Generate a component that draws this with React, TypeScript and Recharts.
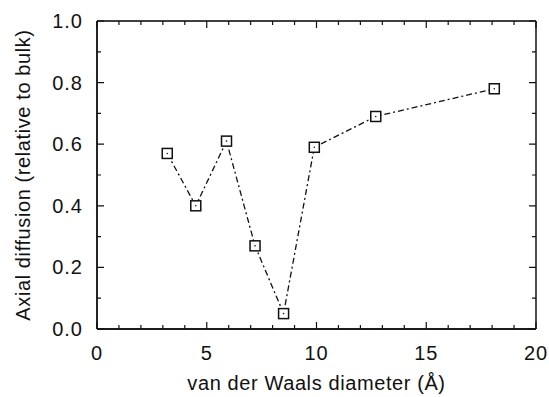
import { LineChart, Line, XAxis, YAxis, CartesianGrid } from 'recharts';

const diameters = [3.2, 4.5, 5.9, 7.2, 8.5, 9.9, 12.7, 18.1];
const diffusion = [0.57, 0.4, 0.61, 0.27, 0.05, 0.59, 0.69, 0.78];
const xTicks = [0, 1, 2, 3, 4, 5, 6, 7, 8, 9, 10, 11, 12, 13, 14, 15, 16, 17, 18, 19, 20];
const yTicks = [0, 0.1, 0.2, 0.3, 0.4, 0.5, 0.6, 0.7, 0.8, 0.9, 1.0];
const frameX = [0, 20];
const frameY = [0, 1];

const data = diameters.map((d, i) => ({ d, v: diffusion[i] }));

const FONT = '"Liberation Sans", Arial, Helvetica, sans-serif';
const INK = '#111';

const W = 549;
const H = 397;
const MARGIN = { top: 21, right: 13, bottom: 0, left: 0 };
const X_AXIS_H = 68;
const Y_AXIS_W = 97;
const PLOT_W = W - MARGIN.left - MARGIN.right - Y_AXIS_W;
const PLOT_H = H - MARGIN.top - MARGIN.bottom - X_AXIS_H;

const isMajorX = (v: number) => v % 5 === 0;
const isMajorY = (v: number) => Math.round(v * 10) % 2 === 0;

// bottom axis tick, also mirrors an inward tick onto the top edge
function BottomTick({ x, y, payload }: any) {
  const major = isMajorX(payload.value);
  const len = major ? 7 : 4;
  const top = y - PLOT_H;
  return (
    <g>
      <path d={`M${x},${y}V${y - len}M${x},${top}V${top + len}`} stroke={INK} strokeWidth={1.2} fill="none" />
      {major && (
        <text x={x} y={y + 31} textAnchor="middle" fontSize={20} letterSpacing={1} fontFamily={FONT} fill={INK}>
          {payload.value}
        </text>
      )}
    </g>
  );
}

// left axis tick, also mirrors an inward tick onto the right edge
function LeftTick({ x, y, payload }: any) {
  const major = isMajorY(payload.value);
  const len = major ? 7 : 4;
  const right = x + PLOT_W;
  return (
    <g>
      <path d={`M${x},${y}H${x + len}M${right},${y}H${right - len}`} stroke={INK} strokeWidth={1.2} fill="none" />
      {major && (
        <text x={x - 14} y={y + 7} textAnchor="end" fontSize={20} letterSpacing={1} fontFamily={FONT} fill={INK}>
          {payload.value.toFixed(1)}
        </text>
      )}
    </g>
  );
}

function SquareDot({ cx, cy, index }: any) {
  return (
    <g key={index}>
      <rect x={cx - 5} y={cy - 5} width={10} height={10} fill="#fff" stroke={INK} strokeWidth={1.5} />
      <circle cx={cx} cy={cy} r={0.8} fill={INK} />
    </g>
  );
}

export default function App() {
  return (
    <div style={{ position: 'absolute', left: 0, top: 0, background: '#fff' }}>
      <LineChart width={W} height={H} data={data} margin={MARGIN}>
        {/* the box round the plot, drawn as grid lines at the domain ends */}
        <CartesianGrid
          horizontalValues={frameY}
          verticalValues={frameX}
          stroke="#000"
          strokeWidth={1.4}
          strokeOpacity={1}
        />
        <XAxis
          dataKey="d"
          type="number"
          domain={[0, 20]}
          ticks={xTicks}
          interval={0}
          tickSize={0}
          tickMargin={0}
          tickLine={false}
          axisLine={{ stroke: INK, strokeWidth: 1.3 }}
          tick={<BottomTick />}
          height={X_AXIS_H}
          label={{
            content: () => (
              <text x={316.5} y={390} textAnchor="middle" fontSize={20} letterSpacing={0.6} fontFamily={FONT} fill={INK}>
                van der Waals diameter (Å)
              </text>
            ),
          }}
        />
        <YAxis
          type="number"
          domain={[0, 1]}
          ticks={yTicks}
          interval={0}
          tickSize={0}
          tickMargin={0}
          tickLine={false}
          axisLine={{ stroke: INK, strokeWidth: 1.3 }}
          tick={<LeftTick />}
          width={Y_AXIS_W}
          label={{
            content: () => (
              <text
                x={0}
                y={0}
                transform="translate(30,175) rotate(-90)"
                textAnchor="middle"
                fontSize={20}
                letterSpacing={0.6}
                fontFamily={FONT}
                fill={INK}
              >
                Axial diffusion (relative to bulk)
              </text>
            ),
          }}
        />
        <Line
          dataKey="v"
          stroke={INK}
          strokeWidth={1.3}
          strokeDasharray="6 3 2 3"
          dot={<SquareDot />}
          activeDot={false}
          isAnimationActive={false}
        />
      </LineChart>
    </div>
  );
}
